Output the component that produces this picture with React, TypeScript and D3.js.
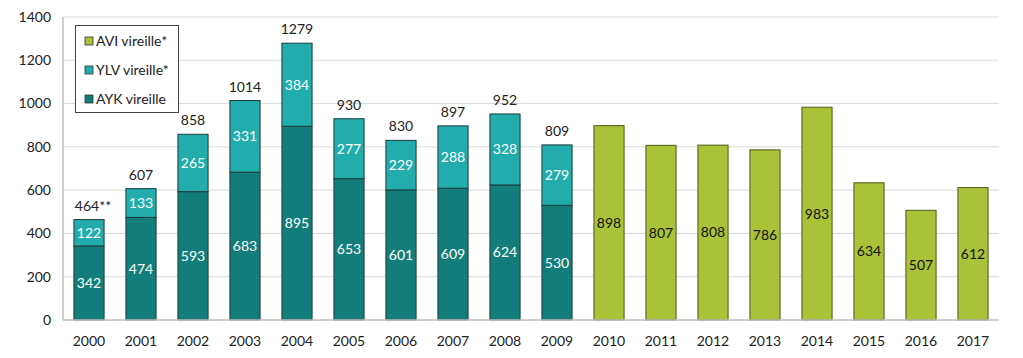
import React from "react";
import * as d3 from "d3";

const years = ["2000","2001","2002","2003","2004","2005","2006","2007","2008","2009","2010","2011","2012","2013","2014","2015","2016","2017"];
const ayk = [342,474,593,683,895,653,601,609,624,530,0,0,0,0,0,0,0,0];
const ylv = [122,133,265,331,384,277,229,288,328,279,0,0,0,0,0,0,0,0];
const avi = [0,0,0,0,0,0,0,0,0,0,898,807,808,786,983,634,507,612];
const totalLabels = ["464**","607","858","1014","1279","930","830","897","952","809"];
const yTicks = [0,200,400,600,800,1000,1200,1400];
const legendItems = [
  { name: "AVI vireille*", color: "#a9c238" },
  { name: "YLV vireille*", color: "#22adac" },
  { name: "AYK vireille", color: "#137d7c" },
];

export default function App() {
  const W = 1023, H = 358;
  const left = 63, right = 999, top = 17, bottom = 320;
  const x = d3.scaleBand().domain(years).range([left, right]).paddingInner(0.42).paddingOuter(0.21);
  const y = d3.scaleLinear().domain([0, 1400]).range([bottom, top]);
  const font = "Lato, 'Open Sans', sans-serif";
  const fs = 14;
  const bw = x.bandwidth();
  return (
    <svg width={W} height={H} style={{ position: "absolute", left: 0, top: 0, fontFamily: font }}>
      <rect width={W} height={H} fill="#fff" />
      {yTicks.map(t => (
        <g key={t}>
          {t > 0 && <line x1={left} x2={right} y1={y(t)} y2={y(t)} stroke="#d9d9d9" strokeWidth={1} />}
          <text x={51} y={y(t)} dy="0.35em" textAnchor="end" fontSize={fs} fill="#222">{t}</text>
        </g>
      ))}
      {years.map((yr, i) => {
        const x0 = x(yr)!;
        const els: any[] = [];
        if (ayk[i] > 0) {
          els.push(<rect key="a" x={x0} y={y(ayk[i])} width={bw} height={y(0) - y(ayk[i])} fill="#137d7c" stroke="#1b3b3b" strokeWidth={1} />);
          els.push(<rect key="b" x={x0} y={y(ayk[i] + ylv[i])} width={bw} height={y(ayk[i]) - y(ayk[i] + ylv[i])} fill="#22adac" stroke="#1b3b3b" strokeWidth={1} />);
          els.push(<text key="ta" x={x0 + bw / 2} y={y(ayk[i] / 2)} dy="0.35em" textAnchor="middle" fontSize={fs} fill="#fff">{ayk[i]}</text>);
          els.push(<text key="tb" x={x0 + bw / 2} y={y(ayk[i] + ylv[i] / 2)} dy="0.35em" textAnchor="middle" fontSize={fs} fill="#fff">{ylv[i]}</text>);
          els.push(<text key="tt" x={x0 + bw / 2 + (i === 0 ? 4 : 0)} y={y(ayk[i] + ylv[i]) - 9} textAnchor="middle" fontSize={fs} fill="#222">{totalLabels[i]}</text>);
        }
        if (avi[i] > 0) {
          els.push(<rect key="c" x={x0} y={y(avi[i])} width={bw} height={y(0) - y(avi[i])} fill="#a9c238" stroke="#4a5a1a" strokeWidth={1} />);
          els.push(<text key="tc" x={x0 + bw / 2} y={y(avi[i] / 2)} dy="0.35em" textAnchor="middle" fontSize={fs} fill="#111">{avi[i]}</text>);
        }
        els.push(<text key="tx" x={x0 + bw / 2} y={341} dy="0.35em" textAnchor="middle" fontSize={fs} fill="#222">{yr}</text>);
        return <g key={yr}>{els}</g>;
      })}
      <line x1={left} x2={left} y1={top} y2={bottom} stroke="#bfbfbf" strokeWidth={1.5} />
      <line x1={left} x2={right} y1={bottom} y2={bottom} stroke="#bfbfbf" strokeWidth={1.5} />
      <g>
        <rect x={75.5} y={25.5} width={103} height={87} fill="#fff" stroke="#444" strokeWidth={1} />
        {legendItems.map((it, k) => (
          <g key={it.name}>
            <rect x={85} y={37 + k * 29} width={8} height={8} fill={it.color} stroke="#333" strokeWidth={0.8} />
            <text x={96} y={41 + k * 29} dy="0.35em" fontSize={fs} fill="#222">{it.name}</text>
          </g>
        ))}
      </g>
    </svg>
  );
}
